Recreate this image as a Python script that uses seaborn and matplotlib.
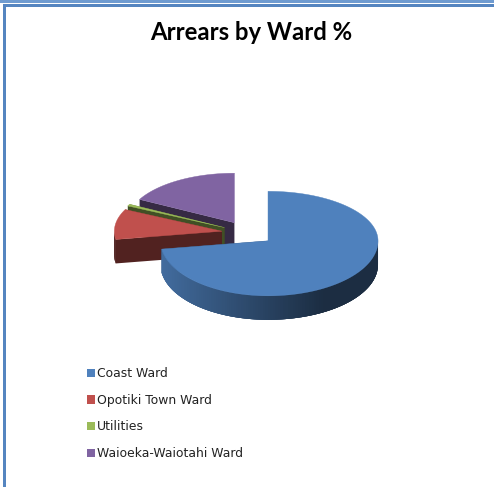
import numpy as np
import matplotlib
matplotlib.use("Agg")
import matplotlib.pyplot as plt
from matplotlib.colors import to_rgb
from matplotlib.patches import Patch, Polygon, Rectangle
import seaborn as sns

# Chart content
title = "Arrears by Ward %"
wards = ["Coast Ward", "Opotiki Town Ward", "Utilities", "Waioeka-Waiotahi Ward"]
arrears_pct = [72.6, 9.6, 0.6, 17.2]
ward_colors = ["#4f81bd", "#c0504d", "#9bbb59", "#8064a2"]

# Tilted-pie geometry, in pixels
CX, CY = 248.0, 233.0
RX_RIGHT, RX_LEFT = 110.0, 107.5
RY_BACK, RY_FRONT = 49.5, 55.0
DEPTH = 24.0
EXPLODE = 0.24
BORDER = "#5585c0"

sns.set_theme(style="white")
fig = plt.figure(figsize=(4.94, 4.87), dpi=100, facecolor="white")
ax = fig.add_axes([0, 0, 1, 1])
ax.set_xlim(0, 494)
ax.set_ylim(487, 0)
ax.axis("off")


def rim(theta, apex):
    """Point on the top rim; theta runs clockwise from 12 o'clock, in radians."""
    dx = np.sin(theta)
    dy = -np.cos(theta)
    rx = np.where(dx < 0, RX_LEFT, RX_RIGHT)
    ry = np.where(dy < 0, RY_BACK, RY_FRONT)
    return apex[0] + rx * dx, apex[1] + ry * dy


def shade(color, factor):
    return tuple(np.clip(np.array(to_rgb(color)) * factor, 0, 1))


def draw_wedge(start, stop, color, z, graded):
    mid = (start + stop) / 2
    apex = (CX + EXPLODE * RX_RIGHT * np.sin(mid), CY - EXPLODE * 50 * np.cos(mid))
    thetas = np.linspace(start, stop, 200)
    xs, ys = rim(thetas, apex)

    # Cut faces along the two radial edges
    for t in (start, stop):
        ex, ey = rim(np.array(t), apex)
        wall = [apex, (ex, ey), (ex, ey + DEPTH), (apex[0], apex[1] + DEPTH)]
        ax.add_patch(Polygon(wall, closed=True, fc=shade(color, 0.42),
                             ec="none", zorder=z))

    # Curved outer wall, darkening from left to right; each strip overlaps
    # the following ones so no seams show between them
    front = [i for i in range(len(thetas) - 1)
             if np.cos((thetas[i] + thetas[i + 1]) / 2) <= 0.02]
    for i in reversed(front):
        j = min(i + 4, front[-1] + 1)
        frac = np.clip((xs[i] - (apex[0] - RX_LEFT)) / (1.55 * RX_RIGHT), 0, 1)
        c = shade(color, 0.85 - 0.50 * frac if graded else 0.42)
        quad = [(xs[i], ys[i]), (xs[j], ys[j]),
                (xs[j], ys[j] + DEPTH), (xs[i], ys[i] + DEPTH)]
        ax.add_patch(Polygon(quad, closed=True, fc=c, ec="none", zorder=z + 0.1))

    # Top face
    outline = np.vstack([[apex], np.column_stack([xs, ys])])
    ax.add_patch(Polygon(outline, closed=True, fc=color, ec=color, lw=0.3, zorder=z + 0.2))


fractions = np.array(arrears_pct) / sum(arrears_pct)
edges = np.concatenate([[0], np.cumsum(fractions)]) * 2 * np.pi

# Painted from the back slice to the front one
for idx, z in zip([3, 2, 1, 0], [2, 3, 4, 5]):
    draw_wedge(edges[idx], edges[idx + 1], ward_colors[idx], z, graded=idx == 0)

# Window frame along the top and left edges
ax.add_patch(Rectangle((0, 0), 494, 2.5, fc="#6f9bd0", ec="none", zorder=6))
ax.add_patch(Rectangle((3, 4), 491, 2.6, fc=BORDER, ec="none", zorder=6))
ax.add_patch(Rectangle((3, 4), 3, 483, fc=BORDER, ec="none", zorder=6))

ax.text(251.5, 32, title, ha="center", va="center", fontsize=17.2,
        fontweight="bold", family="Lato", color="black")

handles = [Patch(fc=c, ec="none") for c in ward_colors]
ax.legend(handles, wards, loc="upper left", bbox_to_anchor=(83 / 494, 1 - 363.5 / 487),
          frameon=False, prop={"family": "DejaVu Sans", "size": 8.9},
          handlelength=0.65, handleheight=0.65, handletextpad=0.2,
          labelspacing=1.1, labelcolor="#222222", borderpad=0.3, borderaxespad=0)

fig.savefig("out.png", dpi=100, facecolor="white")
